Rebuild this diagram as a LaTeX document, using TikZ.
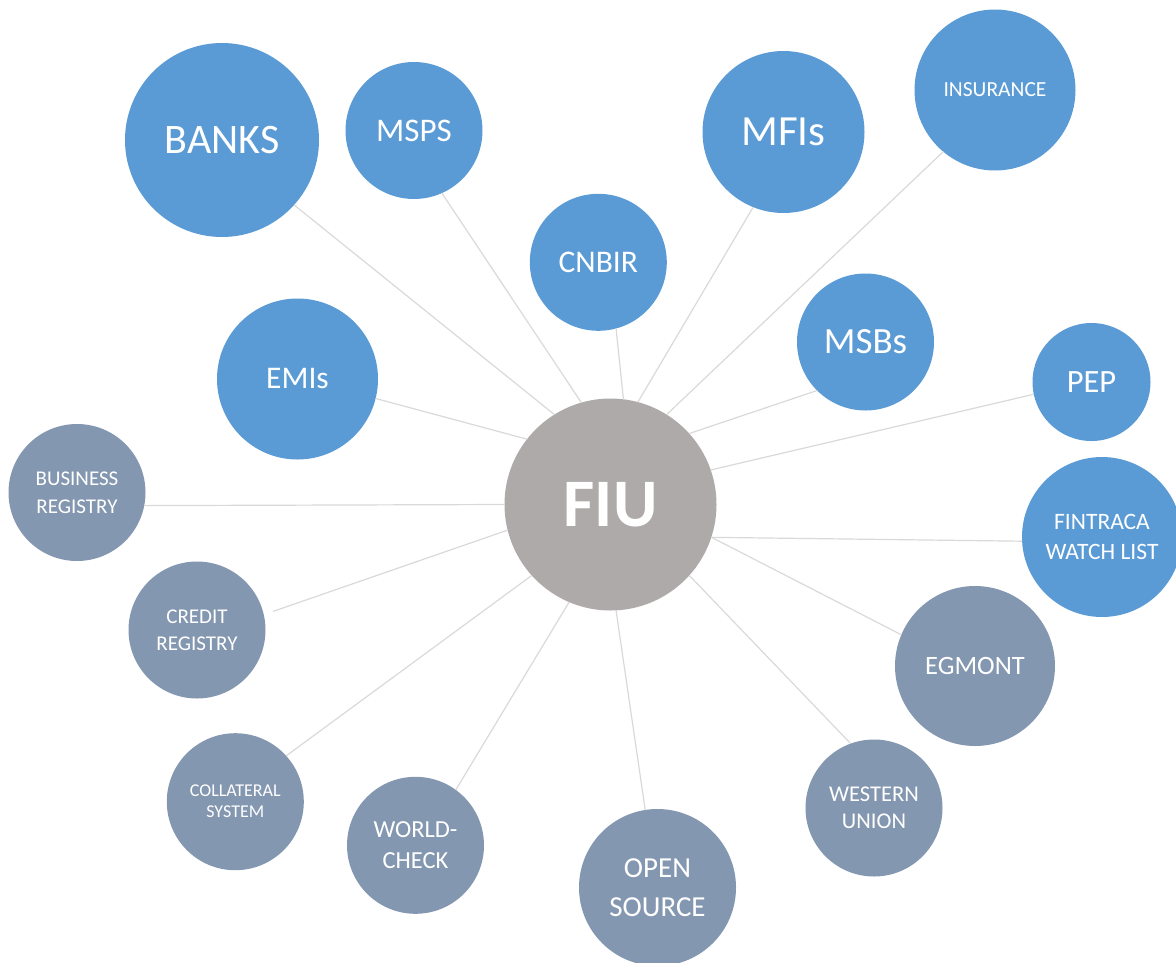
\documentclass[tikz,border=0pt]{standalone}
\usepackage{fontspec}
\setmainfont{Carlito}
\definecolor{fiugray}{HTML}{AEAAAA}
\definecolor{entblue}{HTML}{5B9BD5}
\definecolor{srcgray}{HTML}{8497B0}
\definecolor{linkgray}{HTML}{D9D9D9}
\newcommand{\sz}[2]{\fontsize{#1}{#2}\selectfont}
\tikzset{
  hub/.style={circle, fill=fiugray, text=white, inner sep=0pt, minimum size=212pt, font=\sz{68}{80}\bfseries},
  entity/.style={circle, fill=entblue, text=white, inner sep=0pt, align=center},
  source/.style={circle, fill=srcgray, text=white, inner sep=0pt, align=center},
  link/.style={draw=linkgray, line width=1.2pt}
}
\begin{document}
\begin{tikzpicture}[x=1pt, y=-1pt, line join=round, line cap=round]
\useasboundingbox (0,0) rectangle (1176,962);
%%%%%%%%%%%%%%%%%%%%%%%%%%%%%%%%%
\node[hub] (FIU) at (610.5,504.5) {FIU};
%%%%%%%%%%%%%%%%%%%%%%%%%%%%%%%%%
\node[entity, minimum size=194pt, font=\sz{42}{50}] (BNK) at (222,140) {BANKS};
\node[entity, minimum size=137pt, font=\sz{33}{40}] (MSP) at (414,130.5) {MSPS};
\node[entity, minimum size=137pt, font=\sz{31.5}{38}] (CNB) at (598.3,262.3) {CNBIR};
\node[entity, minimum size=162pt, font=\sz{43}{50}] (MFI) at (783.5,132) {MFIs};
\node[entity, minimum size=161pt, font=\sz{21.5}{26}] (INS) at (995,90) {INSURANCE};
\node[entity, minimum size=137pt, font=\sz{37}{44}] (MSB) at (865.5,342) {MSBs};
\node[entity, minimum size=118pt, font=\sz{32.5}{38}] (PEP) at (1091.5,382) {PEP};
\node[entity, minimum size=160pt, font=\sz{23.5}{29.3}] (FTW) at (1102,537) {FINTRACA\\WATCH LIST};
\node[entity, minimum size=161pt, font=\sz{31.5}{38}] (EMI) at (297.5,379) {EMIs};
%%%%%%%%%%%%%%%%%%%%%%%%%%%%%%%%%
\node[source, minimum size=137pt, font=\sz{21}{28.3}] (BRG) at (77,492.5) {BUSINESS\\REGISTRY};
\node[source, minimum size=137pt, font=\sz{21}{27.3}] (CRG) at (197,630) {CREDIT\\REGISTRY};
\node[source, minimum size=137pt, font=\sz{18}{21}] (COL) at (235.3,801.7) {COLLATERAL\\SYSTEM};
\node[source, minimum size=137pt, font=\sz{24.5}{31}] (WCK) at (415.5,845.3) {WORLD-\\CHECK};
\node[source, minimum size=157pt, font=\sz{29}{39.3}] (OPS) at (657.5,887.5) {OPEN\\SOURCE};
\node[source, minimum size=137pt, font=\sz{22.5}{26.7}] (WUN) at (874,808) {WESTERN\\UNION};
\node[source, minimum size=160pt, font=\sz{26.5}{32}] (EGM) at (975,666) {EGMONT};
%%%%%%%%%%%%%%%%%%%%%%%%%%%%%%%%%
\begin{scope}[link]
  \draw (FIU.122) -- (BNK.-42.5);
  \draw (FIU.106.6) -- (MSP.-66.2);
  \draw (FIU.83) -- (CNB.-75.1);
  \draw (FIU.75.7) -- (MFI.-112.1);
  \draw (FIU.58.1) -- (INS.-130.5);
  \draw (FIU.42.5) -- (MSB.-135.9);
  \draw (FIU.19.5) -- (PEP.-168.4);
  \draw (FIU.-18.6) -- (FTW.-177.1);
  \draw (FIU.-18.6) -- (EGM.157.6);
  \draw (FIU.-42.8) -- (WUN.110.6);
  \draw (FIU.-87.7) -- (OPS.99.2);
  \draw (FIU.-113.9) -- (WCK.54.9);
  \draw (FIU.-138.8) -- (COL.42.3);
  \draw[shorten >=10pt] (FIU.-166) -- (CRG.13.4);
  \draw (FIU.180) -- (BRG.-11.9);
  \draw (FIU.142) -- (EMI.-14.1);
\end{scope}
%%%%%%%%%%%%%%%%%%%%%%%%%%%%%%%%%
\end{tikzpicture}
\end{document}
